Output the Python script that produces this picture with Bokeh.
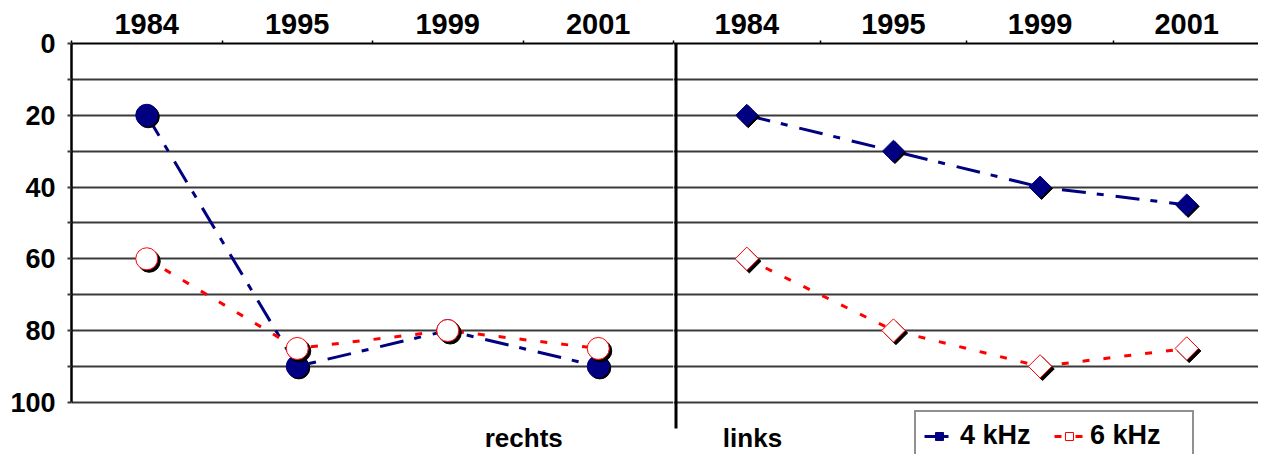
from bokeh.plotting import figure
from bokeh.models import (Range1d, LinearAxis, FixedTicker, Legend, LegendItem,
                          Label, ColumnDataSource, Grid)
from bokeh.transform import dodge
from bokeh.layouts import row
from bokeh.embed import file_html
from bokeh.resources import INLINE

# ---------------- data ----------------
years = ["1984", "1995", "1999", "2001"]
rechts_4khz = [20, 90, 80, 90]
rechts_6khz = [60, 85, 80, 85]
links_4khz = [20, 30, 40, 45]
links_6khz = [60, 80, 90, 85]
y_tick_values = [0, 20, 40, 60, 80, 100]
y_minor_values = [10, 30, 50, 70, 90]
y_grid_values = [0, 10, 20, 30, 40, 50, 60, 70, 80, 90, 100]
series_names = ["4 kHz", "6 kHz"]
panel_names = ["rechts", "links"]

# ---------------- style / layout ----------------
FONT = "Liberation Sans"
NAVY = "#000080"
RED = "#FF0000"
GRID = "#3a3a3a"
FIG_W_TOTAL = 1258
FIG_H = 454
SX = FIG_W_TOTAL / 1274.0     # reference-pixel -> figure-pixel
SY = FIG_H / 470.0

TOP = 45 * SY                         # frame top (value 0)
PX_PER_UNIT = (416 - 45) * SY / 100   # vertical pixels per dB
Y_BOTTOM = (FIG_H - TOP) / PX_PER_UNIT
LEFT_BORDER = round(72 * SX)
LEFT_W = round(682 * SX)
RIGHT_W = FIG_W_TOTAL - LEFT_W
LEFT_CAT_PX = (LEFT_W - LEFT_BORDER) / 4.0
RIGHT_CAT_PX = 148.5 * SX
LABEL_BASELINE = 453          # reference pixel row of the panel-name baseline


def make_fig(width, left_border, cat_px):
    frame_w = width - left_border
    p = figure(width=width, height=FIG_H, output_backend="svg", toolbar_location=None,
               x_range=Range1d(0, frame_w / cat_px), y_range=Range1d(Y_BOTTOM, 0),
               min_border_left=left_border, min_border_right=0,
               min_border_top=round(TOP), min_border_bottom=0,
               x_axis_location=None, y_axis_location=None,
               outline_line_color=None, background_fill_color="white",
               border_fill_color="white")
    p.xgrid.visible = False
    p.ygrid.visible = False
    p.add_layout(Grid(dimension=1, ticker=FixedTicker(ticks=y_grid_values),
                      bounds=(0, 100), grid_line_color=GRID, grid_line_width=2))
    centers = [i + 0.5 for i in range(len(years))]
    xa = LinearAxis(ticker=FixedTicker(ticks=centers,
                                       minor_ticks=list(range(len(years) + 1))),
                    major_label_overrides={c: y for c, y in zip(centers, years)},
                    major_tick_out=0, major_tick_in=0,
                    minor_tick_out=3, minor_tick_in=0,
                    minor_tick_line_color="black", minor_tick_line_width=1.5,
                    axis_line_color="black", axis_line_width=2,
                    major_label_standoff=7,
                    major_label_text_font=FONT, major_label_text_font_size="29px",
                    major_label_text_font_style="bold", major_label_text_color="black")
    p.add_layout(xa, "above")
    return p


def draw_series(p, s4, s6, marker4, marker6, size4, size6, cat_px):
    xs = [i + 0.5 for i in range(len(years))]
    src4 = ColumnDataSource(dict(x=xs, y=s4))
    src6 = ColumnDataSource(dict(x=xs, y=s6))
    dx = 2.5 / cat_px
    dy = 2.5 / PX_PER_UNIT
    l4 = p.line("x", "y", source=src4, line_color=NAVY, line_width=3,
                line_dash="24 11 7 12")
    l6 = p.line("x", "y", source=src6, line_color=RED, line_width=3,
                line_dash="7 14")
    ang4 = 0.785398 if marker4 == "square" else 0
    ang6 = 0.785398 if marker6 == "square" else 0
    p.scatter(x=dodge("x", dx * 0.6), y=dodge("y", dy * 0.6), source=src4,
              marker=marker4, size=size4, angle=ang4,
              fill_color="black", line_color="black")
    m4 = p.scatter("x", "y", source=src4, marker=marker4, size=size4, angle=ang4,
                   fill_color=NAVY, line_color=NAVY)
    p.scatter(x=dodge("x", dx), y=dodge("y", dy), source=src6, marker=marker6,
              size=size6, angle=ang6, fill_color="black", line_color="black")
    m6 = p.scatter("x", "y", source=src6, marker=marker6, size=size6, angle=ang6,
                   fill_color="white", line_color=RED, line_width=1)
    return l4, m4, l6, m6


# ---------------- left panel (rechts) ----------------
p1 = make_fig(LEFT_W, LEFT_BORDER, LEFT_CAT_PX)
ya = LinearAxis(ticker=FixedTicker(ticks=y_tick_values, minor_ticks=y_minor_values),
                bounds=(0, 100), major_tick_out=4, major_tick_in=0,
                minor_tick_out=4, minor_tick_in=0,
                major_tick_line_color=GRID, minor_tick_line_color=GRID,
                major_tick_line_width=2, minor_tick_line_width=2,
                axis_line_color="black", axis_line_width=2.5,
                major_label_standoff=12,
                major_label_text_font=FONT, major_label_text_font_size="27px",
                major_label_text_font_style="bold", major_label_text_color="black")
p1.add_layout(ya, "left")
draw_series(p1, rechts_4khz, rechts_6khz, "circle", "circle", 22, 22, LEFT_CAT_PX)
p1.add_layout(Label(x=(530 - 72) * SX / LEFT_CAT_PX,
                    y=(LABEL_BASELINE - 45) * SY / PX_PER_UNIT,
                    text=panel_names[0], text_font=FONT, text_font_size="26px",
                    text_font_style="bold", text_align="center",
                    text_baseline="alphabetic", text_color="black"))

# ---------------- right panel (links) ----------------
p2 = make_fig(RIGHT_W, 0, RIGHT_CAT_PX)
l4, m4, l6, m6 = draw_series(p2, links_4khz, links_6khz, "square", "square", 15.5, 16.5,
                             RIGHT_CAT_PX)
div_x = 2.5 / RIGHT_CAT_PX
p2.segment(x0=[div_x], y0=[0], x1=[div_x], y1=[(443 - 45) * SY / PX_PER_UNIT],
           line_color="black", line_width=3)
p2.add_layout(Label(x=(762 - 682) * SX / RIGHT_CAT_PX,
                    y=(LABEL_BASELINE - 45) * SY / PX_PER_UNIT,
                    text=panel_names[1], text_font=FONT, text_font_size="26px",
                    text_font_style="bold", text_align="center",
                    text_baseline="alphabetic", text_color="black"))

legend = Legend(items=[LegendItem(label=series_names[0], renderers=[l4, m4]),
                       LegendItem(label=series_names[1], renderers=[l6, m6])],
                orientation="horizontal",
                location=(round((926 - 682) * SX), -7),
                label_text_font=FONT, label_text_font_size="27px",
                label_text_font_style="bold", label_text_color="black",
                glyph_width=30, glyph_height=20, label_standoff=6, label_width=94,
                padding=8, spacing=0, margin=0,
                border_line_color="#222222", border_line_width=2,
                background_fill_color="white", background_fill_alpha=1)
p2.add_layout(legend)

layout = row(p1, p2)
open("out.html", "w").write(file_html(layout, INLINE))
